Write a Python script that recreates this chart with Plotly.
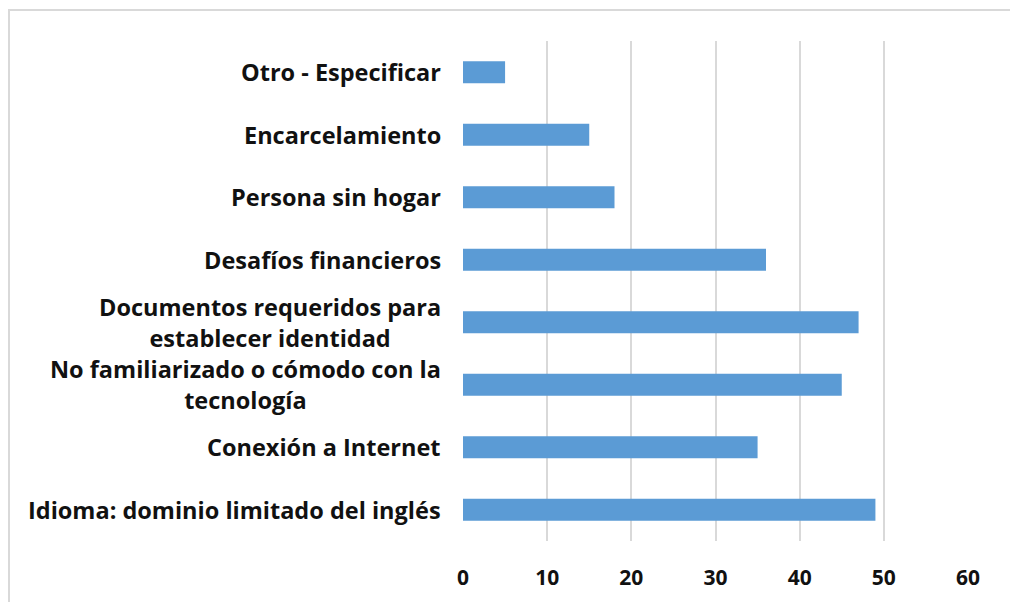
import plotly.graph_objects as go

categories = [
    "Idioma: dominio limitado del inglés",
    "Conexión a Internet",
    "No familiarizado o cómodo con la<br>tecnología",
    "Documentos requeridos para<br>establecer identidad",
    "Desafíos financieros",
    "Persona sin hogar",
    "Encarcelamiento",
    "Otro - Especificar",
]
values = [49, 35, 45, 47, 36, 18, 15, 5]
x_ticks = [0, 10, 20, 30, 40, 50, 60]

BAR_COLOR = "#5B9BD5"
FONT = "Open Sans"

# figure coordinates (page body adds an 8px offset)
L, R, T, B = 455, 58, 33, 69
W, H = 1018, 602
PW, PH = W - L - R, H - T - B

fig = go.Figure()
fig.add_trace(go.Bar(
    y=categories, x=values, orientation="h",
    marker=dict(color=BAR_COLOR, line=dict(width=0)),
    hoverinfo="x+y",
))

for c in categories:
    fig.add_annotation(
        xref="paper", yref="y", x=0, y=c, xanchor="right", yanchor="middle",
        xshift=-20, text=c, showarrow=False, align="center",
        font=dict(family=FONT, size=23.5, color="#111111", weight="bold"),
    )

fig.update_layout(
    width=W, height=H,
    margin=dict(l=L, r=R, t=T, b=B),
    paper_bgcolor="white", plot_bgcolor="white",
    bargap=0.65, showlegend=False,
    xaxis=dict(
        range=[0, 60], tickvals=x_ticks, ticktext=[str(v) for v in x_ticks],
        showgrid=True, gridcolor="#d9d9d9", gridwidth=1.5,
        zeroline=False, showline=False, ticks="",
        ticklabelstandoff=22,
        tickfont=dict(family=FONT, size=21, color="#111111", weight="bold"),
        fixedrange=True,
    ),
    yaxis=dict(
        showticklabels=False, showgrid=False, zeroline=False, showline=False,
        ticks="", fixedrange=True,
    ),
    shapes=[dict(
        type="rect", xref="paper", yref="paper",
        x0=(1 - L) / PW, x1=(1004 - L) / PW,
        y0=-(H + 5 - (T + PH)) / PH, y1=1 + (T - 2) / PH,
        line=dict(color="#d9d9d9", width=2), fillcolor="rgba(0,0,0,0)", layer="below",
    )],
)

fig.write_html("out.html")
